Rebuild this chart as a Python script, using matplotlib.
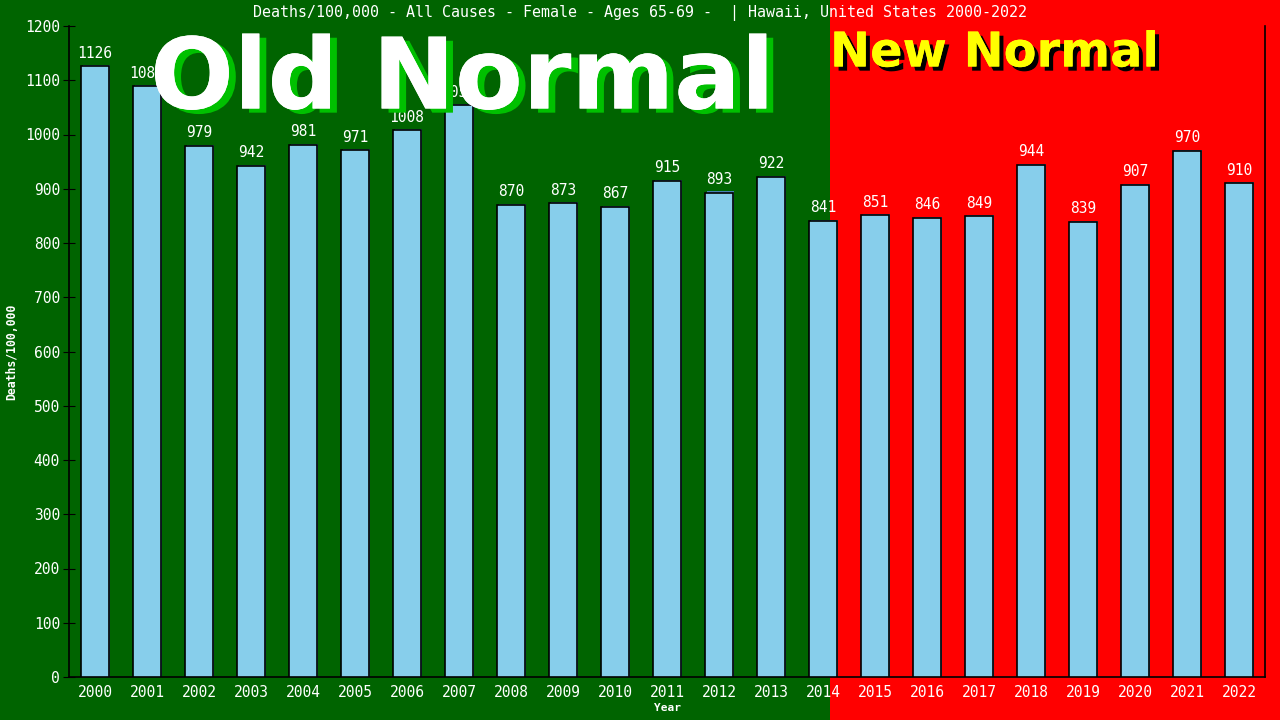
import matplotlib
matplotlib.use('Agg')
import matplotlib.pyplot as plt
import matplotlib.patheffects as pe
from matplotlib.patches import Rectangle

anios = [str(a) for a in range(2000, 2023)]
muertes = [1126, 1089, 979, 942, 981, 971, 1008, 1054, 870, 873, 867, 915,
           893, 922, 841, 851, 846, 849, 944, 839, 907, 970, 910]
marcasY = list(range(0, 1201, 100))

verde = '#006400'
rojo = '#FF0000'
celeste = '#87CEEB'
mono = 'DejaVu Sans Mono'

fig = plt.figure(figsize=(12.8, 7.2), dpi=100)
fig.patch.set_facecolor(verde)
# fondo rojo para la parte "New Normal"
fondoRojo = Rectangle((830 / 1280, 0), 1 - 830 / 1280, 1, transform=fig.transFigure,
                      facecolor=rojo, edgecolor='none', zorder=-5)
fig.patches.append(fondoRojo)

ax = fig.add_axes([69 / 1280, 43 / 720, 1196 / 1280, 651 / 720])
ax.patch.set_alpha(0)

x = list(range(len(anios)))
ancho = 0.52
# sombra azul de las barras
ax.bar([i + 0.025 for i in x], [v + 2 for v in muertes], width=ancho,
       color='#4682B4', edgecolor='none', zorder=2)
ax.bar(x, muertes, width=ancho, color=celeste, edgecolor='black', linewidth=1.2, zorder=3)

for i, v in enumerate(muertes):
    ax.annotate(str(v), (i, v), xytext=(0, 4), textcoords='offset points',
                ha='center', va='bottom', color='white', fontsize=10.5,
                family=mono, zorder=4)

ax.set_xlim(-0.5, len(anios) - 0.5)
ax.set_ylim(0, 1200)
ax.set_xticks(x)
ax.set_xticklabels(anios, family=mono, fontsize=10.5, color='white')
ax.set_yticks(marcasY)
ax.set_yticklabels([str(m) for m in marcasY], family=mono, fontsize=10.5, color='white')
ax.tick_params(axis='x', length=0, pad=6)
ax.tick_params(axis='y', direction='inout', length=9, color='black', pad=2)

ax.spines['top'].set_visible(False)
for lado in ['left', 'bottom', 'right']:
    ax.spines[lado].set_color('black')
    ax.spines[lado].set_linewidth(1.2)

ax.set_xlabel('Year', family=mono, fontsize=8, color='white', fontweight='bold', labelpad=2)
ax.set_ylabel('Deaths/100,000', family=mono, fontsize=8.3, color='white', fontweight='bold', labelpad=5)

fig.text(0.5, 1 - 13 / 720, 'Deaths/100,000 - All Causes - Female - Ages 65-69 -  | Hawaii, United States 2000-2022',
         ha='center', va='center', color='white', fontsize=10.8, family=mono)

fig.text(150 / 1280, 1 - 81 / 720, 'Old Normal', ha='left', va='center', color='white',
         fontsize=71, fontweight='bold', family='DejaVu Sans', zorder=5,
         path_effects=[pe.withSimplePatchShadow(offset=(5, -3), shadow_rgbFace='#00C000', alpha=1),
                       pe.Normal()])
fig.text(830 / 1280, 1 - 53 / 720, 'New Normal', ha='left', va='center', color='#FFFF00',
         fontsize=34.5, fontweight='bold', family='DejaVu Sans', zorder=5,
         path_effects=[pe.withSimplePatchShadow(offset=(3, -3), shadow_rgbFace='black', alpha=1),
                       pe.Normal()])

fig.savefig('out.png', dpi=100, facecolor=fig.get_facecolor())
